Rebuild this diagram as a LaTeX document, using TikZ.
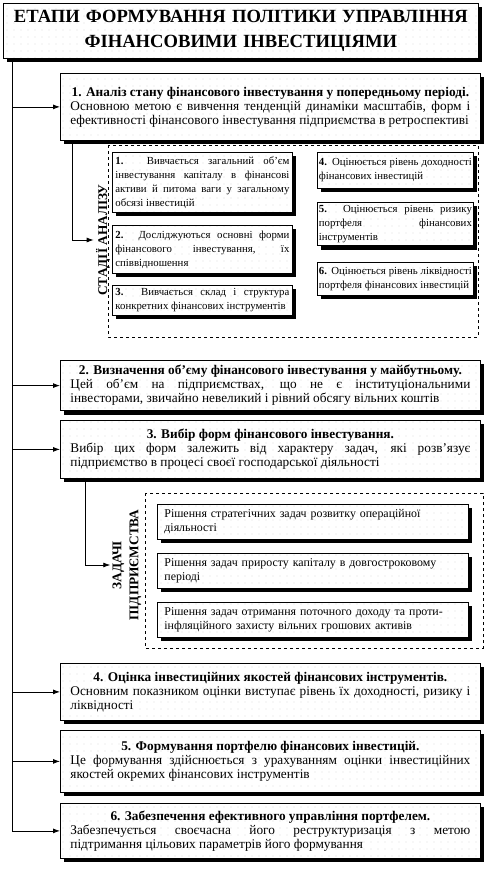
\documentclass[tikz,border=0pt]{standalone}
\usepackage{fontspec}
\setmainfont{Liberation Serif}
\usetikzlibrary{arrows.meta, shadows, patterns.meta}
\tikzstyle{dotfill} = [drop shadow={shadow xshift=4pt, shadow yshift=-4pt, fill=black, opacity=1}, preaction={fill=white}, pattern={Dots[distance=7pt, radius=0.45pt]}, pattern color=gray!70, draw=black]
\tikzstyle{titlebox} = [dotfill, anchor=north west, minimum width=475pt, minimum height=55pt, text width=469pt, inner sep=3pt, align=center, font=\fontsize{18.6}{25}\selectfont\bfseries]
\tikzstyle{mainbox} = [dotfill, anchor=north west, minimum width=420pt, text width=400pt, inner xsep=10pt, inner ysep=5pt, align=justify, font=\fontsize{13.3}{14}\selectfont]
\tikzstyle{stagebox} = [dotfill, anchor=north west, inner sep=3pt, align=justify, font=\fontsize{10.8}{14}\selectfont]
\tikzstyle{taskbox} = [dotfill, anchor=north west, minimum width=311pt, text width=297pt, minimum height=35pt, inner xsep=7pt, inner ysep=5pt, align=left, font=\fontsize{11.9}{14}\selectfont]
\tikzstyle{sidelabel} = [rotate=90, inner sep=2pt, align=center, font=\fontsize{13.3}{17}\selectfont\bfseries]
\tikzstyle{arrow} = [->, >={Latex[length=7pt, width=5pt]}]

\begin{document}
\begin{tikzpicture}[x=1pt, y=-1pt, line width=0.8pt]
    \useasboundingbox (0,0) rectangle (486,870);

    % Title
    \node[titlebox] (title) at (3,3) {ЕТАПИ ФОРМУВАННЯ ПОЛІТИКИ УПРАВЛІННЯ\\ФІНАНСОВИМИ ІНВЕСТИЦІЯМИ};

    % Main stages
    \node[mainbox, minimum height=67pt] (b1) at (60,73) {{\centering\textbf{1. Аналіз стану фінансового інвестування у попередньому періоді.}\par}Основною метою є вивчення тенденцій динаміки масштабів, форм і ефективності фінансового інвестування підприємства в ретроспективі};
    \node[mainbox, minimum height=47pt] (b2) at (60,360) {{\centering\textbf{2. Визначення об’єму фінансового інвестування у майбутньому.}\par}Цей об’єм на підприємствах, що не є інституціональними\linebreak інвесторами, звичайно невеликий і рівний обсягу вільних коштів};
    \node[mainbox, minimum height=58pt] (b3) at (60,420) {{\centering\textbf{3. Вибір форм фінансового інвестування.}\par}Вибір цих форм залежить від характеру задач, які розв’язує підприємство в процесі своєї господарської діяльності};
    \node[mainbox, minimum height=57pt] (b4) at (60,663) {{\centering\textbf{4. Оцінка інвестиційних якостей фінансових інструментів.}\par}Основним показником оцінки виступає рівень їх доходності, ризику і ліквідності};
    \node[mainbox, minimum height=62pt] (b5) at (60,730) {{\centering\textbf{5. Формування портфелю фінансових інвестицій.}\par}Це формування здійснюється з урахуванням оцінки інвестиційних якостей окремих фінансових інструментів};
    \node[mainbox, minimum height=55pt] (b6) at (60,803) {{\centering\textbf{6. Забезпечення ефективного управління портфелем.}\par}Забезпечується своєчасна його реструктуризація з метою\linebreak підтримання цільових параметрів його формування};

    % Spine
    \coordinate (spine) at (12,58);
    \draw[arrow] (spine) |- (b6.west);
    \foreach \b in {b1,b2,b3,b4,b5}
        \draw[arrow] (spine |- \b.west) -- (\b.west);

    % Stages of analysis
    \draw[dashed, line width=0.6pt] (108,145) rectangle (478,337);
    \node[sidelabel] (stages) at (103,240) {СТАДІЇ АНАЛІЗУ};
    \node[stagebox, minimum width=180pt, text width=174pt, minimum height=60pt] (s1) at (112,152) {\textbf{1.} Вивчається загальний об’єм інвестування капіталу в фінансові активи й питома ваги у загальному обсязі інвестицій};
    \node[stagebox, minimum width=180pt, text width=174pt, minimum height=48pt] (s2) at (112,225) {\textbf{2.} Досліджуються основні форми фінансового інвестування, їх співвідношення};
    \node[stagebox, minimum width=180pt, text width=174pt, minimum height=30pt] (s3) at (112,285) {\textbf{3.} Вивчається склад і структура конкретних фінансових інструментів};
    \node[stagebox, minimum width=156pt, text width=153pt, inner xsep=1.5pt, minimum height=36pt] (s4) at (317,152) {\textbf{4.} Оцінюється рівень доходності фінансових інвестицій};
    \node[stagebox, minimum width=156pt, text width=153pt, inner xsep=1.5pt, minimum height=43pt] (s5) at (317,202) {\textbf{5.} Оцінюється рівень ризику\linebreak портфеля фінансових\linebreak інструментів};
    \node[stagebox, minimum width=156pt, text width=153pt, inner xsep=1.5pt, minimum height=33pt] (s6) at (317,262) {\textbf{6.} Оцінюється рівень ліквідності портфеля фінансових інвестицій};
    \coordinate (c1) at (72,140);
    \draw[arrow] (c1) |- (stages.north);

    % Tasks of the enterprise
    \draw[dashed, line width=0.6pt] (145,493) rectangle (483,648);
    \node[sidelabel] (tasks) at (127,565) {ЗАДАЧІ\\ПІДПРИЄМСТВА};
    \node[taskbox] (t1) at (157,504) {Рішення стратегічних задач розвитку операційної діяльності};
    \node[taskbox] (t2) at (157,553) {Рішення задач приросту капіталу в довгостроковому періоді};
    \node[taskbox] (t3) at (157,602) {Рішення задач отримання поточного доходу та проти-\\інфляційного захисту вільних грошових активів};
    \coordinate (c3) at (85,478);
    \draw[arrow] (c3) |- (tasks.north);
\end{tikzpicture}
\end{document}
